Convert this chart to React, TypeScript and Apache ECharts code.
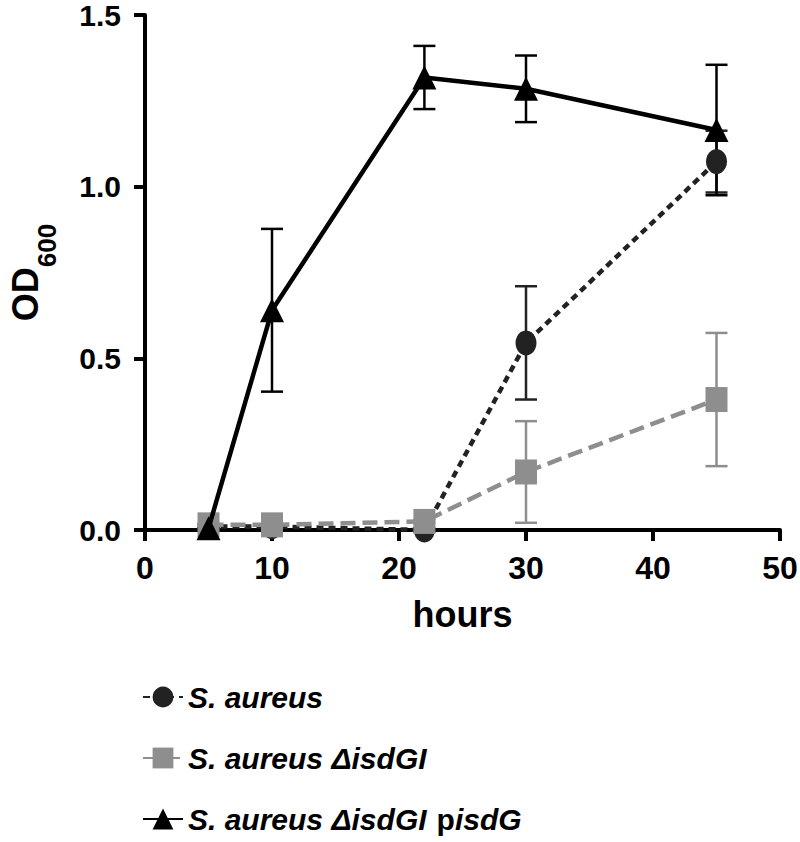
import React, { useEffect, useRef } from "react";
import * as echarts from "echarts";

const hours = [5, 10, 22, 30, 45];
const aureus = [0.01, 0.01, 0.0, 0.545, 1.073];
const aureusSD = [0.005, 0.005, 0.005, 0.165, 0.09];
const delta = [0.015, 0.015, 0.025, 0.169, 0.38];
const deltaSD = [0.005, 0.01, 0.005, 0.148, 0.194];
const comp = [0.005, 0.64, 1.318, 1.285, 1.165];
const compSD = [0.0, 0.237, 0.092, 0.097, 0.19];
const names = ["S. aureus", "S. aureus ΔisdGI", "S. aureus ΔisdGI pisdG"];
const xTicks = [0, 10, 20, 30, 40, 50];
const yTicks = [0, 0.5, 1.0, 1.5];

const FONT = "'Liberation Sans', Arial, Helvetica, sans-serif";
const C_AUR = "#222222";
const C_DEL = "#8e8e8e";
const C_COMP = "#000000";

function errData(vals: number[], sd: number[]) {
  return hours.map((h, i) => [h, vals[i] - sd[i], vals[i] + sd[i]]);
}

function errSeries(name: string, vals: number[], sd: number[], color: string, z: number) {
  return {
    type: "custom",
    name: name + " err",
    z,
    data: errData(vals, sd),
    encode: { x: 0, y: [1, 2] },
    renderItem: (params: any, api: any) => {
      const x = api.value(0);
      const lo = api.value(1);
      const hi = api.value(2);
      const pLo = api.coord([x, lo]);
      const pHi = api.coord([x, hi]);
      const w = 11;
      const st = { stroke: color, lineWidth: 2.5, fill: "none" };
      return {
        type: "group",
        children: [
          { type: "line", shape: { x1: pLo[0], y1: pLo[1], x2: pHi[0], y2: pHi[1] }, style: st },
          { type: "line", shape: { x1: pLo[0] - w, y1: pLo[1], x2: pLo[0] + w, y2: pLo[1] }, style: st },
          { type: "line", shape: { x1: pHi[0] - w, y1: pHi[1], x2: pHi[0] + w, y2: pHi[1] }, style: st },
        ],
      };
    },
  };
}

export default function App() {
  const ref = useRef<HTMLDivElement>(null);
  useEffect(() => {
    if (!ref.current) return;
    const chart = echarts.init(ref.current, null, { renderer: "svg" });
    const pair = (arr: number[]) => hours.map((h, i) => [h, arr[i]]);
    chart.setOption({
      animation: false,
      backgroundColor: "#ffffff",
      textStyle: { fontFamily: FONT },
      grid: { left: 145, right: 20, top: 15, bottom: 312, containLabel: false, outerBoundsMode: "none" },
      xAxis: {
        type: "value",
        min: xTicks[0],
        max: xTicks[xTicks.length - 1],
        interval: 10,
        name: "hours",
        nameLocation: "middle",
        nameGap: 66,
        nameTextStyle: { fontSize: 36, fontWeight: "bold", color: "#000", fontFamily: FONT },
        axisLine: { show: true, lineStyle: { color: "#000", width: 4 } },
        axisTick: { show: true, length: 11, lineStyle: { color: "#000", width: 4 } },
        axisLabel: { fontSize: 32, fontWeight: "bold", color: "#000", margin: 22, fontFamily: FONT },
        splitLine: { show: false },
      },
      yAxis: {
        type: "value",
        min: yTicks[0],
        max: yTicks[yTicks.length - 1],
        interval: 0.5,
        name: "{a|OD}{b|600}",
        nameLocation: "middle",
        nameRotate: 90,
        nameGap: 112,
        nameTextStyle: {
          color: "#000",
          rich: {
            a: { fontSize: 36, fontWeight: "bold", lineHeight: 26, verticalAlign: "top", fontFamily: FONT, color: "#000" },
            b: { fontSize: 26, fontWeight: "bold", lineHeight: 20, padding: [27, 0, 0, 0], verticalAlign: "top", fontFamily: FONT, color: "#000" },
          },
        },
        axisLine: { show: true, lineStyle: { color: "#000", width: 4 } },
        axisTick: { show: true, length: 11, lineStyle: { color: "#000", width: 4 } },
        axisLabel: {
          fontSize: 30,
          lineHeight: 24,
          fontWeight: "bold",
          color: "#000",
          margin: 24,
          fontFamily: FONT,
          formatter: (v: number) => v.toFixed(1),
        },
        splitLine: { show: false },
      },
      legend: {
        data: names,
        orient: "vertical",
        left: 137,
        top: 677,
        itemWidth: 40,
        itemHeight: 26,
        itemGap: 31,
        formatter: (n: string) => {
          if (n === names[0]) return "{i|S. aureus}";
          if (n === names[1]) return "{i|S. aureus ΔisdGI}";
          return "{i|S. aureus ΔisdGI}{n|p}{i|isdG}";
        },
        textStyle: {
          color: "#000",
          rich: {
            i: { fontSize: 30, fontWeight: "bold", fontStyle: "italic", fontFamily: FONT, color: "#000", lineHeight: 36 },
            n: { fontSize: 30, fontWeight: "bold", fontStyle: "normal", fontFamily: FONT, color: "#000", lineHeight: 36, padding: [0, 0, 0, 10] },
          },
        },
      },
      series: [
        errSeries(names[1], delta, deltaSD, C_DEL, 1),
        errSeries(names[0], aureus, aureusSD, C_AUR, 1),
        errSeries(names[2], comp, compSD, C_COMP, 1),
        {
          type: "line",
          name: names[0],
          data: pair(aureus),
          z: 3,
          symbol: "circle",
          symbolSize: [21, 25],
          itemStyle: { color: C_AUR },
          lineStyle: { color: C_AUR, width: 4.5, type: [7, 5] },
        },
        {
          type: "line",
          name: names[1],
          data: pair(delta),
          z: 4,
          symbol: "rect",
          symbolSize: [22, 25],
          itemStyle: { color: C_DEL },
          lineStyle: { color: C_DEL, width: 4.5, type: [15, 7] },
        },
        {
          type: "line",
          name: names[2],
          data: pair(comp),
          z: 5,
          symbol: "triangle",
          symbolSize: [24, 24],
          itemStyle: { color: C_COMP },
          lineStyle: { color: C_COMP, width: 4.5, type: "solid" },
        },
      ],
    });
    return () => chart.dispose();
  }, []);
  return (
    <div
      ref={ref}
      style={{ position: "fixed", left: 0, top: 0, width: 800, height: 842, background: "#fff" }}
    />
  );
}
